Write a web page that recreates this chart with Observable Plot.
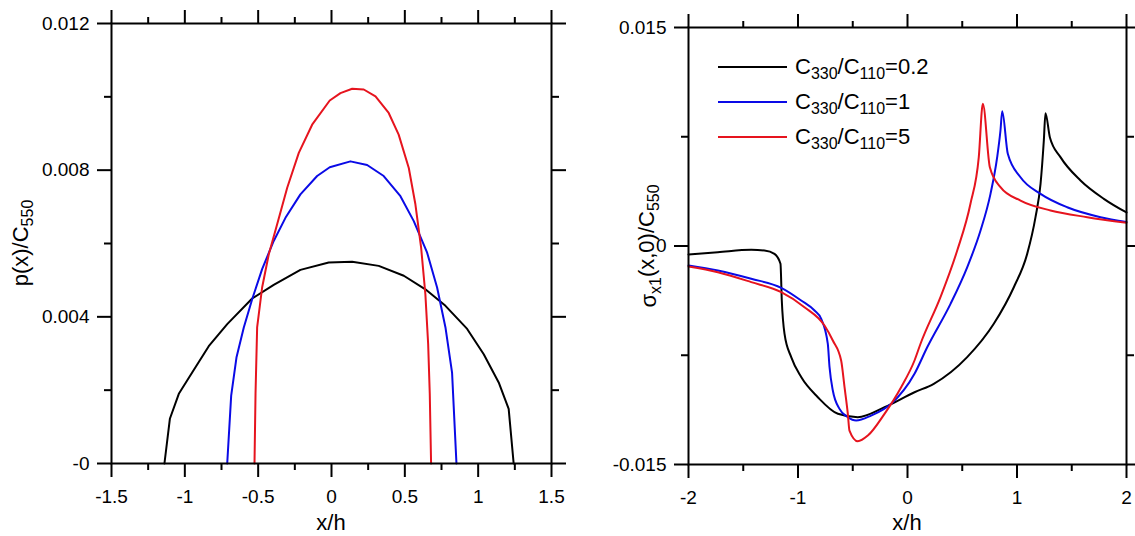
<!DOCTYPE html>
<html>
<head>
<meta charset="utf-8">
<script src="https://cdn.jsdelivr.net/npm/d3@7"></script>
<script src="https://cdn.jsdelivr.net/npm/@observablehq/plot@0.6"></script>
<style>
  html, body { margin: 0; padding: 0; background: white; }
  #wrap { position: relative; width: 1135px; height: 536px; overflow: hidden; font-family: "Liberation Sans", Arial, sans-serif; }
  #left { position: absolute; left: 0; top: 0; }
  #right { position: absolute; left: 570px; top: 0; }
  #legend { position: absolute; left: 718px; top: 50px; }
  .row { position: absolute; left: 0; height: 34px; white-space: nowrap; font-size: 22px; color: #000; }
  .sw { position: absolute; left: 0; width: 69px; height: 0; border-top: 2px solid; }
  .lab { position: absolute; left: 77px; top: 0; line-height: 22px; }
  .lab sub { font-size: 16px; vertical-align: -5px; line-height: 0; }
</style>
</head>
<body>
<div id="wrap">
  <div id="left"></div>
  <div id="right"></div>
  <div id="legend"></div>
</div>
<script>
// ---------- series ----------
const seriesNames = ["0.2", "1", "5"];
const seriesColors = ["#000000", "#0a0ae6", "#e6141e"];

// ---------- left panel: p(x)/C550 ----------
const leftBlackX = [-1.139,-1.102,-1.041,-0.95,-0.837,-0.711,-0.541,-0.394,-0.212,-0.019,0.141,0.322,0.493,0.64,0.777,0.925,1.038,1.14,1.208,1.242];
const leftBlackP = [0,0.00122,0.0019,0.00248,0.0032,0.0038,0.0045,0.00487,0.00528,0.00548,0.0055,0.00539,0.00512,0.00475,0.0043,0.00367,0.00298,0.00221,0.00149,0];
const leftBlueX = [-0.711,-0.684,-0.648,-0.598,-0.541,-0.473,-0.394,-0.314,-0.212,-0.098,-0.012,0.129,0.243,0.356,0.47,0.561,0.652,0.72,0.777,0.822,0.852];
const leftBlueP = [0,0.00185,0.00289,0.00371,0.00448,0.0053,0.00607,0.0067,0.00734,0.00784,0.00808,0.00824,0.00814,0.00784,0.00729,0.00661,0.00575,0.0048,0.00371,0.00248,0];
const leftRedX = [-0.525,-0.518,-0.507,-0.473,-0.428,-0.371,-0.302,-0.223,-0.132,-0.012,0.061,0.141,0.22,0.3,0.39,0.458,0.527,0.572,0.611,0.64,0.659,0.67,0.679];
const leftRedP = [0,0.0019,0.00371,0.0048,0.0057,0.00652,0.00752,0.00847,0.00924,0.0099,0.0101,0.01022,0.0102,0.01001,0.00956,0.00897,0.00806,0.00707,0.00589,0.00462,0.00326,0.0019,0];

const leftXTicks = [-1.5,-1,-0.5,0,0.5,1,1.5];
const leftXTickLabels = ["-1.5","-1","-0.5","0","0.5","1","1.5"];
const leftXMinor = [-1.25,-0.75,-0.25,0.25,0.75,1.25];
const leftYTicks = [0,0.004,0.008,0.012];
const leftYTickLabels = ["-0","0.004","0.008","0.012"];
const leftYMinor = [0.002,0.006,0.01];

// ---------- right panel: sigma_x1(x,0)/C550 ----------
const rightBlackX = [-2,-1.732,-1.427,-1.306,-1.215,-1.16,-1.148,-1.123,-1.062,-0.971,-0.819,-0.636,-0.454,-0.21,0.064,0.24,0.545,0.788,0.971,1.093,1.169,1.215,1.245,1.26,1.3,1.397,1.58,1.793,2.0];
const rightBlackS = [-0.00058,-0.00043,-0.00026,-0.00031,-0.00054,-0.00122,-0.00374,-0.00603,-0.00763,-0.009,-0.01038,-0.01152,-0.01175,-0.01107,-0.01004,-0.00946,-0.00763,-0.00534,-0.00283,-0.00054,0.00198,0.00427,0.00724,0.00912,0.00747,0.0061,0.0045,0.00324,0.0023];
const rightBlueX = [-2,-1.732,-1.427,-1.153,-0.971,-0.849,-0.788,-0.728,-0.712,-0.682,-0.621,-0.545,-0.469,-0.332,-0.149,0.064,0.18,0.393,0.545,0.667,0.758,0.819,0.849,0.865,0.916,1.032,1.215,1.458,1.763,2.0];
const rightBlueS = [-0.00134,-0.00168,-0.00225,-0.00287,-0.00374,-0.00443,-0.005,-0.00671,-0.00832,-0.00992,-0.01118,-0.01175,-0.01198,-0.01164,-0.01083,-0.00877,-0.00695,-0.00397,-0.00146,0.00106,0.00358,0.0061,0.00793,0.00925,0.00633,0.00472,0.00358,0.00266,0.00198,0.00165];
const rightRedX = [-2,-1.732,-1.427,-1.153,-0.941,-0.758,-0.682,-0.606,-0.575,-0.545,-0.53,-0.454,-0.362,-0.21,-0.058,0.064,0.119,0.301,0.454,0.575,0.651,0.688,0.752,0.849,1.032,1.306,1.641,2.0];
const rightRedS = [-0.00141,-0.0018,-0.00248,-0.00317,-0.0042,-0.00546,-0.00649,-0.00786,-0.00969,-0.01152,-0.01267,-0.0134,-0.01301,-0.01152,-0.00969,-0.00786,-0.00671,-0.00351,-0.00031,0.0029,0.0061,0.00976,0.00541,0.00404,0.00312,0.00244,0.00198,0.0016];

const rightXTicks = [-2,-1,0,1,2];
const rightXTickLabels = ["-2","-1","0","1","2"];
const rightXMinor = [-1.5,-0.5,0.5,1.5];
const rightYTicks = [-0.015,0,0.015];
const rightYTickLabels = ["-0.015","0","0.015"];
const rightYMinor = [-0.0075,0.0075];

// ---------- build tables ----------
function table(xs, ys, name) { return xs.map((x, i) => ({x, y: ys[i], series: name})); }
const leftData = [
  ...table(leftBlackX, leftBlackP, seriesNames[0]),
  ...table(leftBlueX, leftBlueP, seriesNames[1]),
  ...table(leftRedX, leftRedP, seriesNames[2])
];
const rightData = [
  ...table(rightBlackX, rightBlackS, seriesNames[0]),
  ...table(rightBlueX, rightBlueS, seriesNames[1]),
  ...table(rightRedX, rightRedS, seriesNames[2])
];

const font = "'Liberation Sans', Arial, sans-serif";
const lookup = (ticks, labels) => d => labels[ticks.findIndex(t => Math.abs(t - d) < 1e-9)];
const blank = () => "";

function axes(xT, xL, xM, yT, yL, yM) {
  return [
    Plot.axisX(xT, {anchor: "bottom", tickSize: 14, tickPadding: 12, strokeWidth: 2, tickFormat: lookup(xT, xL), label: null}),
    Plot.axisX(xM, {anchor: "bottom", tickSize: 7, strokeWidth: 2, tickFormat: blank, label: null}),
    Plot.axisX(xT, {anchor: "top", tickSize: 14, strokeWidth: 2, tickFormat: blank, label: null}),
    Plot.axisX(xM, {anchor: "top", tickSize: 7, strokeWidth: 2, tickFormat: blank, label: null}),
    Plot.axisY(yT, {anchor: "left", tickSize: 14, tickPadding: 8, strokeWidth: 2, tickFormat: lookup(yT, yL), label: null}),
    Plot.axisY(yM, {anchor: "left", tickSize: 7, strokeWidth: 2, tickFormat: blank, label: null}),
    Plot.axisY(yT, {anchor: "right", tickSize: 14, strokeWidth: 2, tickFormat: blank, label: null}),
    Plot.axisY(yM, {anchor: "right", tickSize: 7, strokeWidth: 2, tickFormat: blank, label: null})
  ];
}

const style = {fontFamily: font, fontSize: "19px", color: "#000", background: "transparent", overflow: "visible"};
const colorScale = {domain: seriesNames, range: seriesColors};

const leftPlot = Plot.plot({
  width: 570, height: 536,
  marginLeft: 111, marginRight: 19, marginTop: 23, marginBottom: 73,
  x: {domain: [-1.5, 1.5]},
  y: {domain: [0, 0.012]},
  color: colorScale,
  style,
  marks: [
    Plot.line(leftData, {x: "x", y: "y", z: "series", stroke: "series", strokeWidth: 2}),
    Plot.frame({strokeWidth: 2}),
    ...axes(leftXTicks, leftXTickLabels, leftXMinor, leftYTicks, leftYTickLabels, leftYMinor)
  ]
});
document.getElementById("left").appendChild(leftPlot);

const rightPlot = Plot.plot({
  width: 565, height: 536,
  marginLeft: 118, marginRight: 9, marginTop: 27, marginBottom: 72,
  x: {domain: [-2, 2]},
  y: {domain: [-0.015, 0.015]},
  color: colorScale,
  style,
  marks: [
    Plot.line(rightData, {x: "x", y: "y", z: "series", stroke: "series", strokeWidth: 2, curve: "monotone-x"}),
    Plot.frame({strokeWidth: 2}),
    ...axes(rightXTicks, rightXTickLabels, rightXMinor, rightYTicks, rightYTickLabels, rightYMinor)
  ]
});
document.getElementById("right").appendChild(rightPlot);

// ---------- axis titles (with subscripts) ----------
function title(svg, x, y, rotate, parts) {
  const t = d3.select(svg).append("text")
    .attr("transform", `translate(${x},${y}) rotate(${rotate})`)
    .attr("text-anchor", "middle")
    .attr("font-family", font)
    .attr("font-size", 22)
    .attr("fill", "#000");
  let down = false;
  for (const [s, sub] of parts) {
    const ts = t.append("tspan").text(s);
    if (sub && !down) { ts.attr("font-size", 16).attr("dy", "0.3em"); down = true; }
    else if (sub) { ts.attr("font-size", 16); }
    else if (down) { ts.attr("dy", "-0.3em"); down = false; }
  }
}
title(leftPlot, 331, 530, 0, [["x/h", false]]);
title(rightPlot, 337, 530, 0, [["x/h", false]]);
title(leftPlot, 28, 243, -90, [["p(x)/C", false], ["550", true]]);
title(rightPlot, 86, 246, -90, [["σ", false], ["x1", true], ["(x,0)/C", false], ["550", true]]);

// ---------- legend ----------
const legendLabels = seriesNames.map(v => ["C", "330", "/C", "110", "=" + v]);
const leg = document.getElementById("legend");
legendLabels.forEach((p, i) => {
  const row = document.createElement("div");
  row.className = "row";
  row.style.top = (i * 35) + "px";
  row.innerHTML = `<div class="sw" style="border-color:${seriesColors[i]};top:16px"></div>` +
    `<div class="lab" style="top:6px">${p[0]}<sub>${p[1]}</sub>${p[2]}<sub>${p[3]}</sub>${p[4]}</div>`;
  leg.appendChild(row);
});
</script>
</body>
</html>
